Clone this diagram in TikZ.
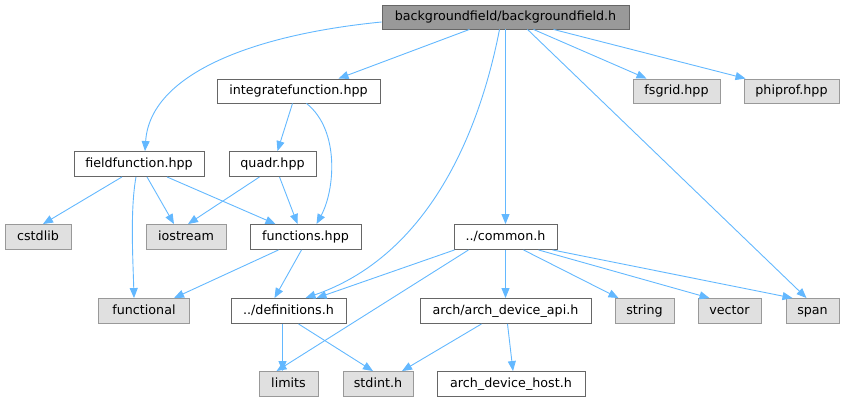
\documentclass[tikz,border=0pt]{standalone}
\usepackage{fontspec}
\setmainfont{DejaVu Sans}
\usetikzlibrary{arrows.meta}
\definecolor{edgec}{HTML}{63B8FF}
\begin{document}
\begin{tikzpicture}[x=1pt,y=-1pt,
  base/.style={draw, line width=0.9pt, inner sep=0pt, font=\fontsize{12.7}{15}\selectfont, text height=9.5pt, text depth=2.7pt},
  wnode/.style={base, draw=black!60, fill=white},
  gnode/.style={base, draw=black!40, fill=black!12},
  rnode/.style={base, draw=black!60, fill=black!40},
  dep/.style={draw=edgec, line width=0.9pt, -{Triangle[length=10pt,width=8pt]}}]
\useasboundingbox (0,0) rectangle (845,403);
\node[rnode, minimum width=247pt, minimum height=24pt] (root) at (505.5,17) {backgroundfield/backgroundfield.h};
\node[wnode, minimum width=163pt, minimum height=24pt] (integ) at (298.5,91) {integratefunction.hpp};
\node[gnode, minimum width=87pt, minimum height=24pt] (fsgrid) at (676.5,91) {fsgrid.hpp};
\node[gnode, minimum width=95pt, minimum height=24pt] (phiprof) at (791.5,91) {phiprof.hpp};
\node[wnode, minimum width=130pt, minimum height=25pt] (field) at (139,164) {fieldfunction.hpp};
\node[wnode, minimum width=87pt, minimum height=25pt] (quadr) at (272.5,164) {quadr.hpp};
\node[gnode, minimum width=66pt, minimum height=25pt] (cstdlib) at (38,237) {cstdlib};
\node[gnode, minimum width=80pt, minimum height=25pt] (iostream) at (186,237) {iostream};
\node[wnode, minimum width=111pt, minimum height=25pt] (functions) at (305.5,237) {functions.hpp};
\node[wnode, minimum width=103pt, minimum height=25pt] (common) at (505.5,237) {../common.h};
\node[gnode, minimum width=91pt, minimum height=25pt] (functional) at (144,311) {functional};
\node[wnode, minimum width=115pt, minimum height=25pt] (defs) at (288.5,311) {../definitions.h};
\node[wnode, minimum width=171pt, minimum height=25pt] (api) at (505.5,311) {arch/arch\_device\_api.h};
\node[gnode, minimum width=59pt, minimum height=25pt] (string) at (644.5,311) {string};
\node[gnode, minimum width=63pt, minimum height=25pt] (vector) at (729.5,311) {vector};
\node[gnode, minimum width=53pt, minimum height=25pt] (span) at (812.5,311) {span};
\node[gnode, minimum width=59pt, minimum height=25pt] (limits) at (288.5,384) {limits};
\node[gnode, minimum width=70pt, minimum height=25pt] (stdint) at (378,384) {stdint.h};
\node[wnode, minimum width=148pt, minimum height=25pt] (host) at (511,384) {arch\_device\_host.h};

% root edges
\draw[dep] (root.west |- 0,22) .. controls (250,35) and (150,75) .. (field.north -| 145,0);
\draw[dep] ([xshift=-36pt]root.south) -- ([xshift=40pt]integ.north);
\draw[dep] ([xshift=-6pt]root.south) .. controls (480,130) and (430,255) .. ([xshift=17pt]defs.north);
\draw[dep] (root.south) -- (common.north);
\draw[dep] ([xshift=28pt]root.south) -- ([xshift=-30pt]fsgrid.north);
\draw[dep] ([xshift=48pt]root.south) -- ([xshift=-46pt]phiprof.north);
\draw[dep] ([xshift=22pt]root.south) -- ([xshift=-6pt]span.north);
% integratefunction
\draw[dep] ([xshift=-6pt]integ.south) -- ([xshift=5pt]quadr.north);
\draw[dep] ([xshift=8pt]integ.south) .. controls (340,130) and (335,190) .. ([xshift=11pt]functions.north);
% fieldfunction
\draw[dep] ([xshift=-17pt]field.south) -- ([xshift=5pt]cstdlib.north);
\draw[dep] ([xshift=8pt]field.south) -- ([xshift=-12pt]iostream.north);
\draw[dep] ([xshift=28pt]field.south) -- ([xshift=-30pt]functions.north);
\draw[dep] ([xshift=-3pt]field.south) .. controls (130,210) and (133,260) .. ([xshift=-10pt]functional.north);
% quadr
\draw[dep] ([xshift=-13pt]quadr.south) -- ([xshift=2pt]iostream.north);
\draw[dep] ([xshift=7pt]quadr.south) -- ([xshift=-8pt]functions.north);
% functions
\draw[dep] ([xshift=-27pt]functions.south) -- ([xshift=30pt]functional.north);
\draw[dep] ([xshift=-4pt]functions.south) -- ([xshift=-14pt]defs.north);
% common
\draw[dep] ([xshift=-51pt]common.south) -- ([xshift=28pt]defs.north);
\draw[dep] ([xshift=-37pt]common.south) -- ([xshift=-12pt]limits.north);
\draw[dep] (common.south) -- (api.north);
\draw[dep] ([xshift=18pt]common.south) -- ([xshift=-26pt]string.north);
\draw[dep] ([xshift=33pt]common.south) -- ([xshift=-20pt]vector.north);
\draw[dep] ([xshift=47pt]common.south) -- ([xshift=-20pt]span.north);
% definitions
\draw[dep] ([xshift=-6pt]defs.south) -- ([xshift=-6pt]limits.north);
\draw[dep] ([xshift=10pt]defs.south) -- ([xshift=-5pt]stdint.north);
% api
\draw[dep] ([xshift=-24pt]api.south) -- ([xshift=24pt]stdint.north);
\draw[dep] ([xshift=2pt]api.south) -- ([xshift=2pt]host.north);
\end{tikzpicture}
\end{document}
